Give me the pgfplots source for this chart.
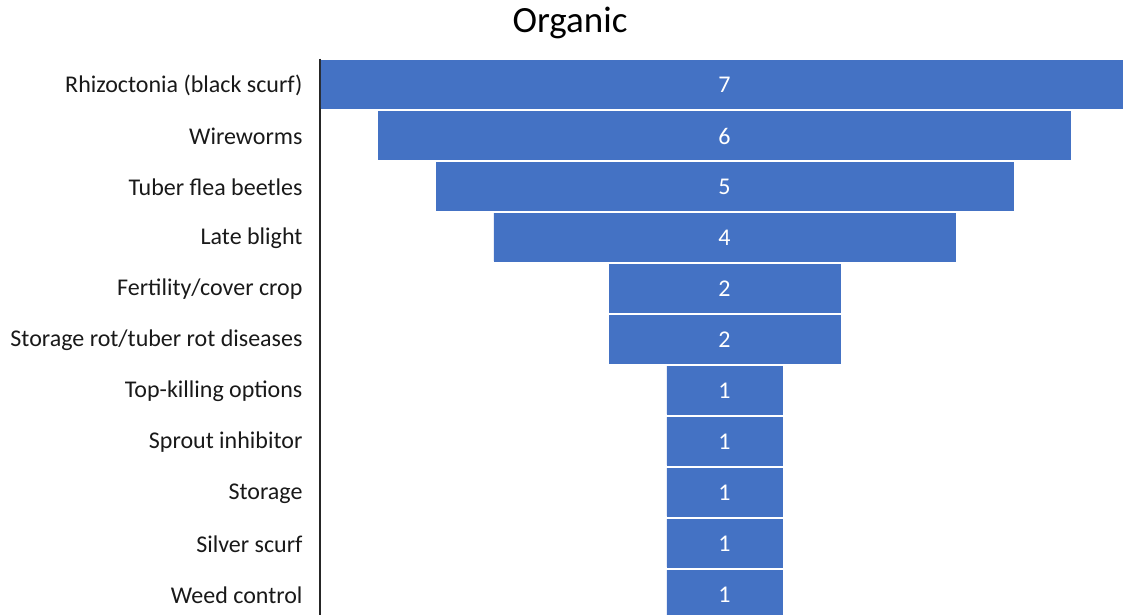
\documentclass[border=0pt]{standalone}
\usepackage{pgfplots}
\pgfplotsset{compat=1.18}
\usepackage{pgfplotstable}
\usepackage{fontspec}
\setmainfont{Carlito}
\definecolor{barblue}{HTML}{4472C4}
\pgfplotstableread{
idx val
0 7
1 6
2 5
3 4
4 2
5 2
6 1
7 1
8 1
9 1
10 1
}\datatable
\begin{document}
\begin{tikzpicture}
\useasboundingbox (0,0) rectangle (1123bp,615bp);
\begin{axis}[
  at={(320bp,0bp)}, anchor=south west,
  scale only axis, width=803bp, height=556.5bp,
  xmin=-3.508, xmax=3.456,
  ymin=-0.5, ymax=10.41,
  y dir=reverse,
  hide x axis,
  axis y line*=left,
  y axis line style={line width=1.4pt, black!85, -},
  ytick={0,...,10},
  yticklabels={Rhizoctonia (black scurf),Wireworms,Tuber flea beetles,Late blight,Fertility/cover crop,Storage rot/tuber rot diseases,Top-killing options,Sprout inhibitor,Storage,Silver scurf,Weed control},
  yticklabel style={font=\fontsize{24bp}{28bp}\selectfont, black!90, xshift=-14bp, yshift=-1.5bp},
  major tick length=0pt,
  bar width=48bp,
]
\addplot[xbar, bar shift=0pt, fill=barblue, draw=barblue, line width=0.3pt] table[x expr=\thisrow{val}/2, y=idx] {\datatable};
\addplot[xbar, bar shift=0pt, fill=barblue, draw=barblue, line width=0.3pt] table[x expr=-\thisrow{val}/2, y=idx] {\datatable};
\addplot[draw=none, mark=none, nodes near coords, point meta=explicit,
  nodes near coords style={anchor=center, white, yshift=-1bp, font=\fontsize{24bp}{28bp}\selectfont, /pgf/number format/assume math mode=true}]
  table[x expr=0, y=idx, meta=val] {\datatable};
\end{axis}
\node[font=\fontsize{37bp}{44bp}\selectfont, black] at (570bp,592bp) {Organic};
\end{tikzpicture}
\end{document}
